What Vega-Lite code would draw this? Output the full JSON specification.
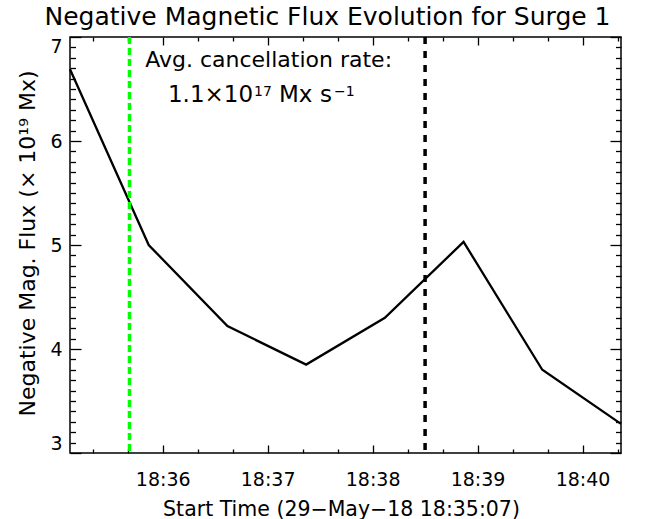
{
  "$schema": "https://vega.github.io/schema/vega-lite/v6.json",
  "width": 551,
  "height": 416,
  "autosize": {"type": "none"},
  "padding": {"left": 70, "top": 37, "right": 31, "bottom": 66},
  "background": "white",
  "view": {"stroke": "black", "strokeWidth": 1.5},
  "config": {
    "font": "DejaVu Sans",
    "axis": {"domain": false, "grid": false, "tickColor": "black", "tickWidth": 1.3, "labelColor": "black", "titleColor": "black", "labelFont": "DejaVu Sans", "titleFont": "DejaVu Sans", "titleFontWeight": "normal"},
    "text": {"font": "DejaVu Sans", "color": "black", "align": "left", "baseline": "alphabetic"}
  },
  "title": {"text": "Negative Magnetic Flux Evolution for Surge 1", "fontSize": 25, "fontWeight": "normal", "font": "DejaVu Sans", "anchor": "middle", "frame": "group", "dx": -18, "dy": 26, "color": "black", "baseline": "alphabetic", "offset": 11},
  "datasets": {
    "flux": [
      {"time": "2018-05-29T18:35:07", "flux": 6.69},
      {"time": "2018-05-29T18:35:52", "flux": 5.00},
      {"time": "2018-05-29T18:36:37", "flux": 4.22},
      {"time": "2018-05-29T18:37:22", "flux": 3.85},
      {"time": "2018-05-29T18:38:07", "flux": 4.30},
      {"time": "2018-05-29T18:38:52", "flux": 5.03},
      {"time": "2018-05-29T18:39:37", "flux": 3.80},
      {"time": "2018-05-29T18:40:22", "flux": 3.28}
    ]
  },
  "resolve": {"axis": {"x": "independent", "y": "independent"}},
  "layer": [
    {
      "data": {"name": "flux"},
      "mark": {"type": "line", "color": "black", "strokeWidth": 2.3},
      "encoding": {
        "x": {"field": "time", "type": "temporal",
          "scale": {"domain": [{"year": 2018, "month": 5, "date": 29, "hours": 18, "minutes": 35, "seconds": 7}, {"year": 2018, "month": 5, "date": 29, "hours": 18, "minutes": 40, "seconds": 22}], "nice": false},
          "axis": {"orient": "bottom", "format": "%H:%M", "offset": -8, "tickSize": 8, "labelPadding": 17, "labelFontSize": 19, "labelFlush": false, "labelOverlap": false,
            "values": [
              {"year": 2018, "month": 5, "date": 29, "hours": 18, "minutes": 36},
              {"year": 2018, "month": 5, "date": 29, "hours": 18, "minutes": 37},
              {"year": 2018, "month": 5, "date": 29, "hours": 18, "minutes": 38},
              {"year": 2018, "month": 5, "date": 29, "hours": 18, "minutes": 39},
              {"year": 2018, "month": 5, "date": 29, "hours": 18, "minutes": 40}
            ],
            "title": "Start Time (29−May−18 18:35:07)", "titleFontSize": 20.5, "titleX": 271, "titleY": 70, "titleBaseline": "alphabetic", "titleAlign": "center"}},
        "y": {"field": "flux", "type": "quantitative",
          "scale": {"domain": [3, 7], "nice": false, "zero": false},
          "axis": {"orient": "left", "values": [3, 4, 5, 6, 7], "format": "d", "offset": -11, "tickSize": 11, "labelPadding": 8, "labelFontSize": 19, "labelFlush": true,
            "title": "Negative Mag. Flux (× 10¹⁹ Mx)", "titleFontSize": 22, "titleX": -47, "titleY": 206, "titleBaseline": "alphabetic", "titleAlign": "center", "titleAngle": -90}}
      }
    },
    {
      "data": {"name": "flux"},
      "mark": {"type": "line", "opacity": 0},
      "encoding": {
        "x": {"field": "time", "type": "temporal",
          "scale": {"domain": [{"year": 2018, "month": 5, "date": 29, "hours": 18, "minutes": 35, "seconds": 7}, {"year": 2018, "month": 5, "date": 29, "hours": 18, "minutes": 40, "seconds": 22}], "nice": false},
          "axis": {"orient": "bottom", "offset": -4, "tickSize": 4, "labels": false, "title": null,
            "values": [
              {"year": 2018, "month": 5, "date": 29, "hours": 18, "minutes": 35, "seconds": 20},
              {"year": 2018, "month": 5, "date": 29, "hours": 18, "minutes": 35, "seconds": 40},
              {"year": 2018, "month": 5, "date": 29, "hours": 18, "minutes": 36, "seconds": 20},
              {"year": 2018, "month": 5, "date": 29, "hours": 18, "minutes": 36, "seconds": 40},
              {"year": 2018, "month": 5, "date": 29, "hours": 18, "minutes": 37, "seconds": 20},
              {"year": 2018, "month": 5, "date": 29, "hours": 18, "minutes": 37, "seconds": 40},
              {"year": 2018, "month": 5, "date": 29, "hours": 18, "minutes": 38, "seconds": 20},
              {"year": 2018, "month": 5, "date": 29, "hours": 18, "minutes": 38, "seconds": 40},
              {"year": 2018, "month": 5, "date": 29, "hours": 18, "minutes": 39, "seconds": 20},
              {"year": 2018, "month": 5, "date": 29, "hours": 18, "minutes": 39, "seconds": 40},
              {"year": 2018, "month": 5, "date": 29, "hours": 18, "minutes": 40, "seconds": 20}
            ]}},
        "y": {"field": "flux", "type": "quantitative",
          "scale": {"domain": [3, 7], "nice": false, "zero": false},
          "axis": {"orient": "left", "offset": -5.5, "tickSize": 5.5, "labels": false, "title": null,
            "values": [3.1, 3.2, 3.3, 3.4, 3.5, 3.6, 3.7, 3.8, 3.9, 4.1, 4.2, 4.3, 4.4, 4.5, 4.6, 4.7, 4.8, 4.9, 5.1, 5.2, 5.3, 5.4, 5.5, 5.6, 5.7, 5.8, 5.9, 6.1, 6.2, 6.3, 6.4, 6.5, 6.6, 6.7, 6.8, 6.9]}}
      }
    },
    {
      "data": {"name": "flux"},
      "mark": {"type": "line", "opacity": 0},
      "encoding": {
        "x": {"field": "time", "type": "temporal",
          "scale": {"domain": [{"year": 2018, "month": 5, "date": 29, "hours": 18, "minutes": 35, "seconds": 7}, {"year": 2018, "month": 5, "date": 29, "hours": 18, "minutes": 40, "seconds": 22}], "nice": false},
          "axis": {"orient": "top", "offset": -8, "tickSize": 8, "labels": false, "title": null,
            "values": [
              {"year": 2018, "month": 5, "date": 29, "hours": 18, "minutes": 36},
              {"year": 2018, "month": 5, "date": 29, "hours": 18, "minutes": 37},
              {"year": 2018, "month": 5, "date": 29, "hours": 18, "minutes": 38},
              {"year": 2018, "month": 5, "date": 29, "hours": 18, "minutes": 39},
              {"year": 2018, "month": 5, "date": 29, "hours": 18, "minutes": 40}
            ]}},
        "y": {"field": "flux", "type": "quantitative",
          "scale": {"domain": [3, 7], "nice": false, "zero": false},
          "axis": {"orient": "right", "offset": -11, "tickSize": 11, "labels": false, "title": null, "values": [3, 4, 5, 6, 7]}}
      }
    },
    {
      "data": {"name": "flux"},
      "mark": {"type": "line", "opacity": 0},
      "encoding": {
        "x": {"field": "time", "type": "temporal",
          "scale": {"domain": [{"year": 2018, "month": 5, "date": 29, "hours": 18, "minutes": 35, "seconds": 7}, {"year": 2018, "month": 5, "date": 29, "hours": 18, "minutes": 40, "seconds": 22}], "nice": false},
          "axis": {"orient": "top", "offset": -4, "tickSize": 4, "labels": false, "title": null,
            "values": [
              {"year": 2018, "month": 5, "date": 29, "hours": 18, "minutes": 35, "seconds": 20},
              {"year": 2018, "month": 5, "date": 29, "hours": 18, "minutes": 35, "seconds": 40},
              {"year": 2018, "month": 5, "date": 29, "hours": 18, "minutes": 36, "seconds": 20},
              {"year": 2018, "month": 5, "date": 29, "hours": 18, "minutes": 36, "seconds": 40},
              {"year": 2018, "month": 5, "date": 29, "hours": 18, "minutes": 37, "seconds": 20},
              {"year": 2018, "month": 5, "date": 29, "hours": 18, "minutes": 37, "seconds": 40},
              {"year": 2018, "month": 5, "date": 29, "hours": 18, "minutes": 38, "seconds": 20},
              {"year": 2018, "month": 5, "date": 29, "hours": 18, "minutes": 38, "seconds": 40},
              {"year": 2018, "month": 5, "date": 29, "hours": 18, "minutes": 39, "seconds": 20},
              {"year": 2018, "month": 5, "date": 29, "hours": 18, "minutes": 39, "seconds": 40},
              {"year": 2018, "month": 5, "date": 29, "hours": 18, "minutes": 40, "seconds": 20}
            ]}},
        "y": {"field": "flux", "type": "quantitative",
          "scale": {"domain": [3, 7], "nice": false, "zero": false},
          "axis": {"orient": "right", "offset": -5.5, "tickSize": 5.5, "labels": false, "title": null,
            "values": [3.1, 3.2, 3.3, 3.4, 3.5, 3.6, 3.7, 3.8, 3.9, 4.1, 4.2, 4.3, 4.4, 4.5, 4.6, 4.7, 4.8, 4.9, 5.1, 5.2, 5.3, 5.4, 5.5, 5.6, 5.7, 5.8, 5.9, 6.1, 6.2, 6.3, 6.4, 6.5, 6.6, 6.7, 6.8, 6.9]}}
      }
    },
    {
      "data": {"values": [{}]},
      "mark": {"type": "rule", "color": "#00ff00", "strokeWidth": 3.5, "strokeDash": [7, 4]},
      "encoding": {"x": {"datum": {"year": 2018, "month": 5, "date": 29, "hours": 18, "minutes": 35, "seconds": 41}, "type": "temporal", "axis": null}}
    },
    {
      "data": {"values": [{}]},
      "mark": {"type": "rule", "color": "black", "strokeWidth": 3.5, "strokeDash": [7, 7]},
      "encoding": {"x": {"datum": {"year": 2018, "month": 5, "date": 29, "hours": 18, "minutes": 38, "seconds": 30}, "type": "temporal", "axis": null}}
    },
    {
      "data": {"values": [{}]},
      "mark": {"type": "text", "fontSize": 22},
      "encoding": {
        "x": {"datum": {"year": 2018, "month": 5, "date": 29, "hours": 18, "minutes": 35, "seconds": 50}, "type": "temporal", "axis": null},
        "y": {"datum": 6.71, "type": "quantitative", "axis": null},
        "text": {"value": "Avg. cancellation rate:"}
      }
    },
    {
      "data": {"values": [{}]},
      "mark": {"type": "text", "fontSize": 23},
      "encoding": {
        "x": {"datum": {"year": 2018, "month": 5, "date": 29, "hours": 18, "minutes": 36, "seconds": 3}, "type": "temporal", "axis": null},
        "y": {"datum": 6.373, "type": "quantitative", "axis": null},
        "text": {"value": "1.1×10"}
      }
    },
    {
      "data": {"values": [{}]},
      "mark": {"type": "text", "fontSize": 14},
      "encoding": {
        "x": {"datum": {"year": 2018, "month": 5, "date": 29, "hours": 18, "minutes": 36, "seconds": 52, "milliseconds": 200}, "type": "temporal", "axis": null},
        "y": {"datum": 6.43, "type": "quantitative", "axis": null},
        "text": {"value": "17"}
      }
    },
    {
      "data": {"values": [{}]},
      "mark": {"type": "text", "fontSize": 23},
      "encoding": {
        "x": {"datum": {"year": 2018, "month": 5, "date": 29, "hours": 18, "minutes": 37, "seconds": 6, "milliseconds": 500}, "type": "temporal", "axis": null},
        "y": {"datum": 6.373, "type": "quantitative", "axis": null},
        "text": {"value": "Mx"}
      }
    },
    {
      "data": {"values": [{}]},
      "mark": {"type": "text", "fontSize": 23},
      "encoding": {
        "x": {"datum": {"year": 2018, "month": 5, "date": 29, "hours": 18, "minutes": 37, "seconds": 29, "milliseconds": 900}, "type": "temporal", "axis": null},
        "y": {"datum": 6.373, "type": "quantitative", "axis": null},
        "text": {"value": "s"}
      }
    },
    {
      "data": {"values": [{}]},
      "mark": {"type": "text", "fontSize": 14},
      "encoding": {
        "x": {"datum": {"year": 2018, "month": 5, "date": 29, "hours": 18, "minutes": 37, "seconds": 37, "milliseconds": 900}, "type": "temporal", "axis": null},
        "y": {"datum": 6.43, "type": "quantitative", "axis": null},
        "text": {"value": "−1"}
      }
    }
  ]
}
